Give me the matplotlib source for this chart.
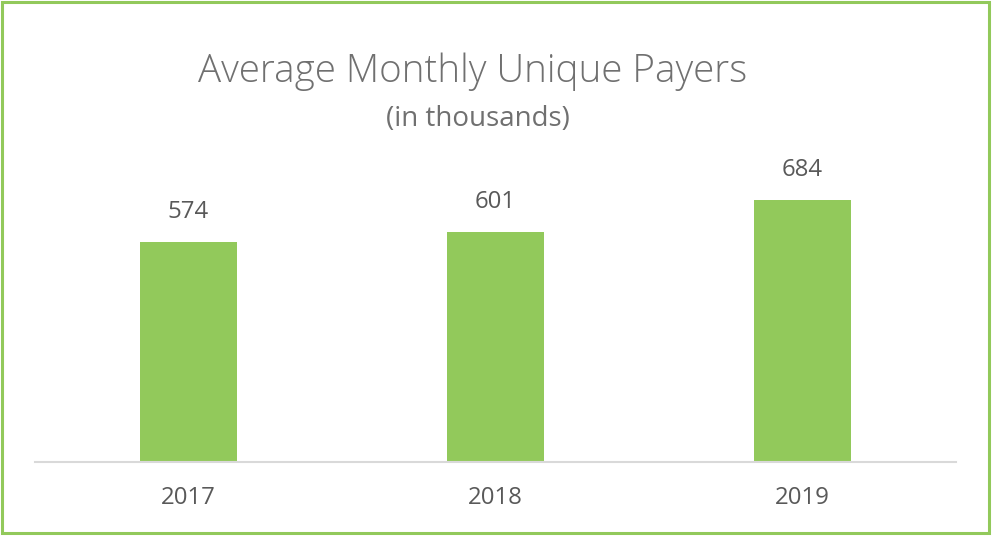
import matplotlib
matplotlib.use("Agg")
import matplotlib.pyplot as plt
from matplotlib.patches import Rectangle

years = ["2017", "2018", "2019"]
payers = [574, 601, 684]

title = "Average Monthly Unique Payers"
subtitle = "(in thousands)"

W, H = 1000, 543
fig = plt.figure(figsize=(W / 100, H / 100), dpi=100)
plt.rcParams['font.family'] = ['Open Sans', 'DejaVu Sans']

bar_color = "#92C95B"
text_color = "#595959"
title_color = "#707070"

ax = fig.add_axes([35 / W, 81 / H, 921 / W, 306 / H])
x = range(len(years))
bars = ax.bar(x, payers, width=0.316, color=bar_color, zorder=2)
ax.set_xlim(-0.5, len(years) - 0.5)
ax.set_ylim(0, 800)
ax.set_xticks(list(x))
ax.set_xticklabels(years, fontsize=17.3, color=text_color)
ax.tick_params(axis='x', length=0, pad=17)
ax.set_yticks([])
for s in ["top", "left", "right"]:
    ax.spines[s].set_visible(False)
ax.spines["bottom"].set_color("#D9D9D9")
ax.spines["bottom"].set_linewidth(1.5)

for xi, v in zip(x, payers):
    ax.annotate(f"{v}", (xi, v), xytext=(0, 13), textcoords="offset points",
                ha="center", va="bottom", fontsize=17.3, color=text_color)

fig.text(473 / W, 1 - 82 / H, title, ha="center", va="baseline",
         fontsize=27.7, color=title_color, fontweight="light")
fig.text(478 / W, 1 - 126 / H, subtitle, ha="center", va="baseline",
         fontsize=20, color=title_color)

border = Rectangle((2 / W, 1 - 533 / H), 987 / W, 531 / H, transform=fig.transFigure,
                   fill=False, edgecolor=bar_color, linewidth=2.2)
fig.patches.append(border)

fig.savefig("out.png", dpi=100, facecolor="white")
